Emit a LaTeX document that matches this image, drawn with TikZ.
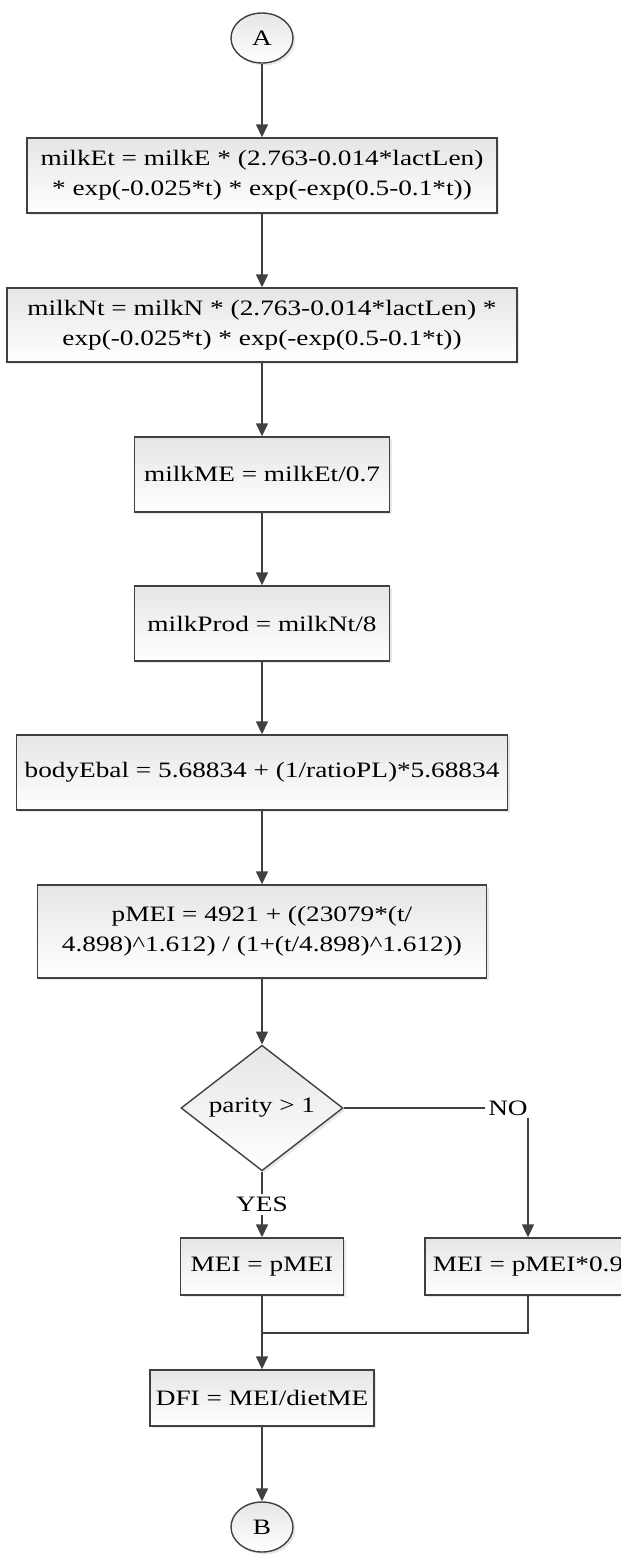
\documentclass[tikz,border=0pt]{standalone}
\usepackage{fontspec}
\setmainfont{Liberation Serif}[FakeStretch=1.24]
\usetikzlibrary{shapes.geometric, shadows, arrows.meta}
\definecolor{mygray}{RGB}{64,64,64}

\begin{document}
\begin{tikzpicture}[x=0.5pt, y=-0.5pt, font=\fontsize{11}{15}\selectfont,
	shade/.style={draw=mygray, line width=0.7pt, top color=black!10, bottom color=white,
		drop shadow={shadow xshift=1.2pt, shadow yshift=-1.2pt, opacity=0.18}},
	box/.style={shade, rectangle, align=center, inner sep=0pt},
	conn/.style={shade, ellipse, minimum width=31pt, minimum height=25pt, inner sep=0pt},
	flow/.style={draw=mygray, line width=0.7pt, -{Triangle[length=6.5pt, width=6pt]}},
	link/.style={draw=mygray, line width=0.7pt},
	lbl/.style={fill=white, inner sep=1.5pt}]

\useasboundingbox (0,0) rectangle (621,1555);

\draw (262,38) node [conn] (A) {A};

\draw (262,175.5) node [box, minimum width=235pt, minimum height=37.5pt] (milkEt)
	{milkEt = milkE * (2.763-0.014*lactLen)\\ * exp(-0.025*t) * exp(-exp(0.5-0.1*t))};
\draw (262,325) node [box, minimum width=255pt, minimum height=37pt] (milkNt)
	{milkNt = milkN * (2.763-0.014*lactLen) *\\ exp(-0.025*t) * exp(-exp(0.5-0.1*t))};
\draw (262,474.5) node [box, minimum width=127.5pt, minimum height=37.5pt] (milkME)
	{milkME = milkEt/0.7};
\draw (262,623.5) node [box, minimum width=127.5pt, minimum height=37.5pt] (milkProd)
	{milkProd = milkNt/8};
\draw (262,772.5) node [box, minimum width=245.5pt, minimum height=37.5pt] (bodyEbal)
	{bodyEbal = 5.68834 + (1/ratioPL)*5.68834};
\draw (262,931.5) node [box, minimum width=224.5pt, minimum height=46.5pt] (pMEI)
	{pMEI = 4921 + ((23079*(t/\\4.898)\textasciicircum 1.612) / (1+(t/4.898)\textasciicircum 1.612))};

\draw (262,1108) node [shade, diamond, minimum width=81pt, minimum height=55pt, inner sep=0pt] (parity)
	{parity > 1};

\draw (262,1266.5) node [box, minimum width=81.5pt, minimum height=28.5pt] (MEIa) {MEI = pMEI};
\draw (528,1266.5) node [box, minimum width=103pt, minimum height=28.5pt] (MEIb) {MEI = pMEI*0.9};

\draw (262,1398) node [box, minimum width=112pt, minimum height=28pt] (DFI) {DFI = MEI/dietME};

\draw (262,1527) node [conn] (B) {B};

%----------MAIN LINE-------------%
\foreach \a/\b in {A/milkEt, milkEt/milkNt, milkNt/milkME, milkME/milkProd,
	milkProd/bodyEbal, bodyEbal/pMEI, pMEI/parity, MEIa/DFI, DFI/B}
	\draw[flow] (\a) -- (\b);

%----------BRANCHES-------------%
\draw[flow] (parity) -- node[lbl] (yes) {YES} (MEIa);
\draw[flow] (parity) -| node[lbl, pos=0.5, xshift=-10pt] (no) {NO} (MEIb);

\coordinate (join) at (262,1333);
\draw[link] (MEIb) |- (join);

\end{tikzpicture}
\end{document}
